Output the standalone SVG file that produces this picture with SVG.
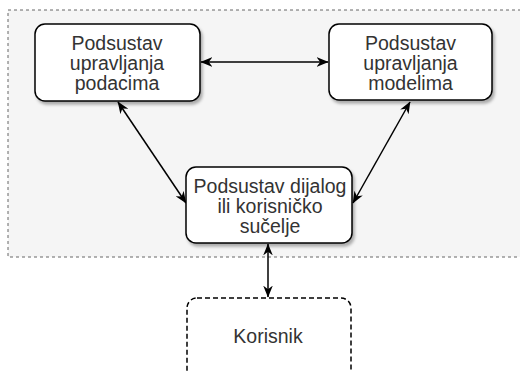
<svg xmlns="http://www.w3.org/2000/svg" width="520" height="371" viewBox="0 0 520 371">
<defs>
<style>
.box{fill:#ffffff;stroke:#000000;stroke-width:1.5;}
.ext{fill:#ffffff;stroke:#000000;stroke-width:1.5;stroke-dasharray:5 3;}
.lbl{font-family:"Liberation Sans",Arial,sans-serif;font-size:19.5px;fill:#333333;text-anchor:middle;}
.con{stroke:#000000;stroke-width:1.5;fill:none;marker-start:url(#arr);marker-end:url(#arr);}
.area{fill:#f5f5f5;stroke:#666666;stroke-width:1;stroke-dasharray:3 3;}
</style>
<marker id="arr" viewBox="0 0 10 8" refX="9.5" refY="4" markerWidth="12" markerHeight="9.6" markerUnits="userSpaceOnUse" orient="auto-start-reverse">
<path d="M0,0 L10,4 L0,8 L3,4 Z" fill="#000000"/>
</marker>
<filter id="sh" x="-10%" y="-10%" width="130%" height="140%">
<feDropShadow dx="2" dy="3" stdDeviation="1.5" flood-color="#000000" flood-opacity="0.3"/>
</filter>
</defs>
<rect id="area" class="area" x="8" y="10" width="530" height="247"/>
<g id="connectors">
<line class="con" x1="201" y1="62" x2="328" y2="62"/>
<line class="con" x1="118" y1="102" x2="186" y2="203"/>
<line class="con" x1="410" y1="102" x2="353" y2="203"/>
<line class="con" x1="268" y1="244" x2="268" y2="297"/>
</g>
<g id="podaci">
<rect class="box" filter="url(#sh)" x="35" y="24" width="165" height="77" rx="10"/>
<text class="lbl" x="117" y="50">Podsustav</text>
<text class="lbl" x="117" y="70">upravljanja</text>
<text class="lbl" x="117" y="90">podacima</text>
</g>
<g id="modeli">
<rect class="box" filter="url(#sh)" x="329" y="24" width="163" height="76" rx="10"/>
<text class="lbl" x="410.5" y="50">Podsustav</text>
<text class="lbl" x="410.5" y="70">upravljanja</text>
<text class="lbl" x="410.5" y="90">modelima</text>
</g>
<g id="dijalog">
<rect class="box" filter="url(#sh)" x="186" y="167" width="166" height="76" rx="10"/>
<text class="lbl" x="270" y="193">Podsustav dijalog</text>
<text class="lbl" x="270" y="213">ili korisničko</text>
<text class="lbl" x="270" y="233">sučelje</text>
</g>
<g id="korisnik">
<rect class="ext" x="187" y="298" width="164" height="84" rx="10"/>
<text class="lbl" x="268" y="343">Korisnik</text>
</g>
</svg>
